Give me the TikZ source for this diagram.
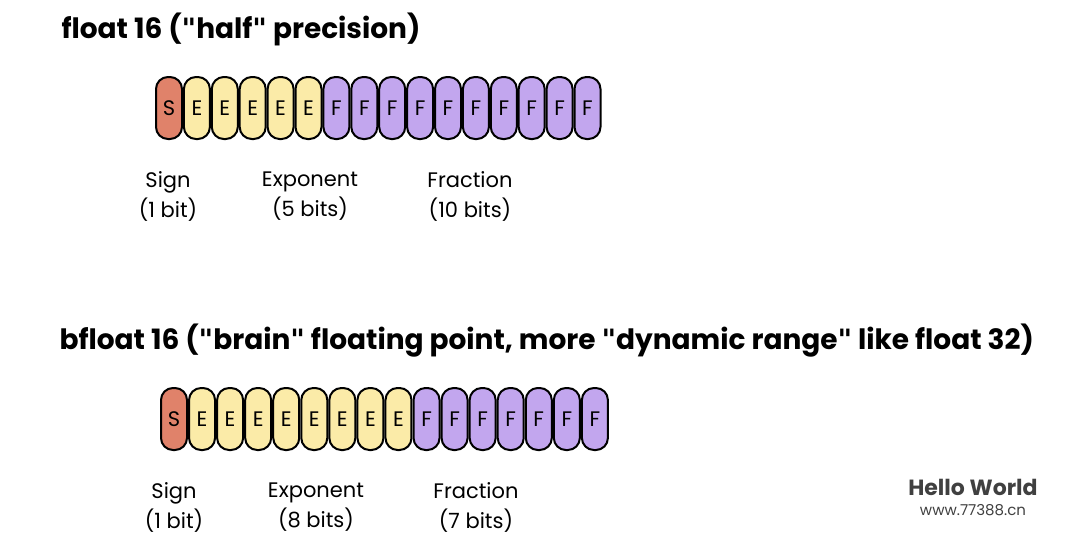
\documentclass[tikz,border=0pt]{standalone}
\usepackage{fontspec}
\setmainfont{Poppins}
\newfontfamily\dv{DejaVu Sans}
\newcommand\qq{{\dv\symbol{34}}}
\begin{document}
\begin{tikzpicture}[x=1pt,y=-1pt,
 cell/.style={draw=black,line width=2pt,rounded corners=12pt,minimum width=26pt,minimum height=62pt,inner sep=0pt,font=\fontsize{21}{21}\selectfont,anchor=center},
 S/.style={cell,fill=sfill},E/.style={cell,fill=efill},F/.style={cell,fill=ffill},
 ttl/.style={anchor=west,font=\fontsize{28}{28}\selectfont\bfseries},
 lab/.style={align=center,font=\fontsize{21}{30}\selectfont}]
\definecolor{sfill}{HTML}{E0826A}\definecolor{efill}{HTML}{FBEBA8}\definecolor{ffill}{HTML}{C2A6EE}
\useasboundingbox (0,0) rectangle (1080,539);
\node[ttl] (t1) at (58,29) {float 16 (\qq half\qq{} precision)};
\foreach \i in {0,...,15}{
 \pgfmathsetmacro\xx{155+27.9*\i+14}
 \ifnum\i=0 \def\st{S}\else\ifnum\i<6 \def\st{E}\else\def\st{F}\fi\fi
 \node[\st] (a\i) at (\xx,108) {\st};}
\node[lab] (l1) at (168,196) {Sign\\(1 bit)};
\node[lab] (l2) at (310,196) {Exponent\\(5 bits)};
\node[lab] (l3) at (470,196) {Fraction\\(10 bits)};
\node[ttl] (t2) at (56,341) {bfloat 16 (\qq brain\qq{} floating point, more \qq dynamic range\qq{} like float 32)};
\foreach \i in {0,...,15}{
 \pgfmathsetmacro\xx{160+28.06*\i+14}
 \ifnum\i=0 \def\st{S}\else\ifnum\i<9 \def\st{E}\else\def\st{F}\fi\fi
 \node[\st] (b\i) at (\xx,419) {\st};}
\node[lab] (m1) at (174,507) {Sign\\(1 bit)};
\node[lab] (m2) at (316,507) {Exponent\\(8 bits)};
\node[lab] (m3) at (476,507) {Fraction\\(7 bits)};
\node[font=\fontsize{22}{22}\selectfont\bfseries,text=black!75] (w1) at (973,487) {Hello World};
\node[font=\fontsize{15}{15}\selectfont,text=black!75] (w2) at (973,510) {www.77388.cn};
\end{tikzpicture}
\end{document}
